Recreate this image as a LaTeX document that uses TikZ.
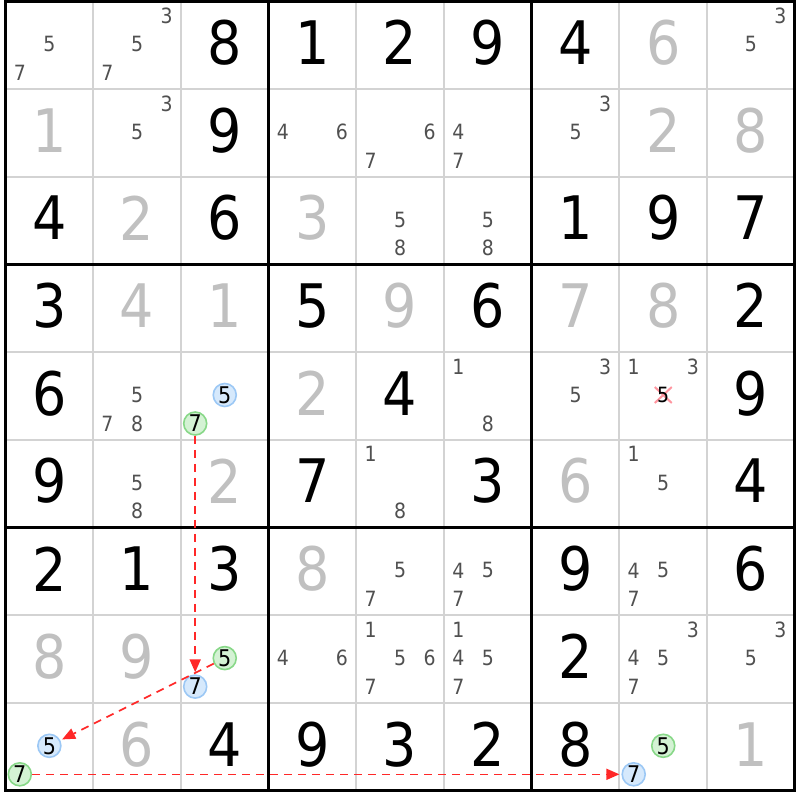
\documentclass[tikz,border=0pt]{standalone}
\usepackage{fontspec}
\setmainfont[FakeStretch=0.9]{DejaVu Sans}
\usetikzlibrary{arrows.meta}
\definecolor{gridgray}{RGB}{211,211,211}
\definecolor{givengray}{RGB}{192,192,192}
\definecolor{candgray}{RGB}{80,80,80}
\definecolor{bfill}{RGB}{214,233,252}
\definecolor{bedge}{RGB}{156,200,245}
\definecolor{gfill}{RGB}{212,242,212}
\definecolor{gedge}{RGB}{136,216,136}
\definecolor{arrred}{RGB}{255,40,40}
\definecolor{xpink}{RGB}{255,150,160}
\begin{document}
\begin{tikzpicture}[x=1pt,y=-1pt,
  bigdigit/.style={inner sep=0pt, font=\fontsize{60}{60}\selectfont},
  canddigit/.style={inner sep=0pt, text=candgray, font=\fontsize{21}{21}\selectfont},
  circ/.style={circle, inner sep=0pt, minimum size=23pt, line width=1.6pt, font=\fontsize{23}{23}\selectfont},
  bluec/.style={circ, fill=bfill, draw=bedge},
  greenc/.style={circ, fill=gfill, draw=gedge},
  link/.style={draw=arrred, line width=1.6pt, dash pattern=on 8pt off 6pt, -{Triangle[length=13pt,width=11pt]}, shorten >=2pt},
  thinline/.style={draw=gridgray, line width=2pt},
  thickline/.style={draw=black, line width=3.2pt},
]
\useasboundingbox (0,0) rectangle (800,800);
\fill[white] (0,0) rectangle (800,800);
% grid
\foreach \i in {1,2,4,5,7,8}{
  \draw[thinline] ({5.5+87.7*\i},1.2) -- ({5.5+87.7*\i},790.5);
  \draw[thinline] (5.5,{1.2+87.7*\i}) -- (794.8,{1.2+87.7*\i});
}
\foreach \i in {3,6}{
  \draw[thickline] ({5.5+87.7*\i},1.2) -- ({5.5+87.7*\i},790.5);
  \draw[thickline] (5.5,{1.2+87.7*\i}) -- (794.8,{1.2+87.7*\i});
}
\draw[thickline] (5.5,1.2) rectangle (794.8,790.5);
% given digits
\foreach \r/\c/\d/\col in {
 0/2/8/black,0/3/1/black,0/4/2/black,0/5/9/black,0/6/4/black,0/7/6/givengray,
 1/0/1/givengray,1/2/9/black,1/7/2/givengray,1/8/8/givengray,
 2/0/4/black,2/1/2/givengray,2/2/6/black,2/3/3/givengray,2/6/1/black,2/7/9/black,2/8/7/black,
 3/0/3/black,3/1/4/givengray,3/2/1/givengray,3/3/5/black,3/4/9/givengray,3/5/6/black,3/6/7/givengray,3/7/8/givengray,3/8/2/black,
 4/0/6/black,4/3/2/givengray,4/4/4/black,4/8/9/black,
 5/0/9/black,5/2/2/givengray,5/3/7/black,5/5/3/black,5/6/6/givengray,5/8/4/black,
 6/0/2/black,6/1/1/black,6/2/3/black,6/3/8/givengray,6/6/9/black,6/8/6/black,
 7/0/8/givengray,7/1/9/givengray,7/6/2/black,
 8/1/6/givengray,8/2/4/black,8/3/9/black,8/4/3/black,8/5/2/black,8/6/8/black,8/8/1/givengray}{
  \node[bigdigit, text=\col] (g\r\c) at ({5.5+87.7*(\c+0.5)},{1.2+87.7*(\r+0.5)-2.5}) {\d};
}
% candidates
\foreach \r/\c/\ds in {
 0/0/{5,7},0/1/{3,5,7},0/8/{3,5},
 1/1/{3,5},1/3/{4,6},1/4/{6,7},1/5/{4,7},1/6/{3,5},
 2/4/{5,8},2/5/{5,8},
 4/1/{5,7,8},4/5/{1,8},4/6/{3,5},4/7/{1,3},
 5/1/{5,8},5/4/{1,8},5/7/{1,5},
 6/4/{5,7},6/5/{4,5,7},6/7/{4,5,7},
 7/3/{4,6},7/4/{1,5,6,7},7/5/{1,4,5,7},7/7/{3,4,5,7},7/8/{3,5}}{
  \foreach \d in \ds {
    \node[canddigit] (n\r\c\d) at ({5.5+87.7*\c+14.3+29.55*mod(\d-1,3)},{1.2+87.7*\r+14.5+28.5*floor((\d-1)/3)}) {\d};
  }
}
% eliminated candidate
\coordinate (xc) at ({5.5+87.7*7+14.3+29.55},{1.2+87.7*4+14.5+28.5});
\draw[xpink, line width=2pt] ([shift={(-8.5,-8)}]xc) -- ([shift={(8.5,8)}]xc);
\draw[xpink, line width=2pt] ([shift={(-8.5,8)}]xc) -- ([shift={(8.5,-8)}]xc);
\node[canddigit, text=black] (x475) at (xc) {5};
% highlighted candidates
\foreach \r/\c/\d/\sty in {4/2/5/bluec,4/2/7/greenc,7/2/5/greenc,7/2/7/bluec,8/0/5/bluec,8/0/7/greenc,8/7/5/greenc,8/7/7/bluec}{
  \node[\sty] (k\r\c\d) at ({5.5+87.7*\c+14.3+29.55*mod(\d-1,3)},{1.2+87.7*\r+14.5+28.5*floor((\d-1)/3)}) {\d};
}
% links
\draw[link] (k427) -- (k727);
\draw[link] (k725) -- (k805);
\draw[link] (k807) -- (k877);
\end{tikzpicture}
\end{document}
